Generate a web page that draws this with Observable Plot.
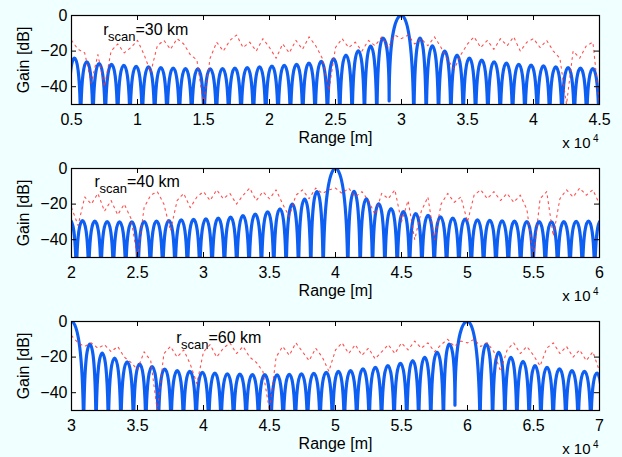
<!DOCTYPE html>
<html>
<head>
<meta charset="utf-8">
<script src="https://cdn.jsdelivr.net/npm/d3@7"></script>
<script src="https://cdn.jsdelivr.net/npm/@observablehq/plot@0.6"></script>
<style>
  html, body { margin: 0; padding: 0; background: #f0ffff; }
  #chart { width: 622px; height: 457px; overflow: hidden; }
  #chart svg { display: block; }
</style>
</head>
<body>
<div id="chart"></div>
<script>
// ---------------- data ----------------
// Panel 1: r_scan = 30 km
const nulls1 = [4755, 5690, 6625, 7560, 8495, 9430, 10365, 11300, 12235, 13170, 14105, 15040, 15975, 16910, 17845, 18780, 19715, 20650, 21585, 22520, 23455, 24390, 25325, 26260, 27195, 28130, 29065, 30935, 31870, 32805, 33740, 34675, 35610, 36545, 37480, 38415, 39350, 40285, 41220, 42155, 43090, 44025, 44960, 45895];
const peaks1 = [-24, -26, -27, -27.5, -28, -28.5, -28.8, -29.2, -29.5, -29.8, -30, -30, -29.8, -29.5, -29.2, -28.8, -28.4, -28, -27.5, -26.8, -25.8, -24.3, -22.2, -19.8, -17.2, -12.7,
  0,
  -12.7, -17, -20, -22.3, -24, -25.1, -26, -26.8, -27.4, -27.9, -28.3, -28.9, -29.2, -29.6, -29.8, -30];
const shallow1 = [[29065, -48]];
const red1 = [-14, -19, -21, -38, -22, -40, -20, -16, -21, -18,
  -14, -22, -32, -17, -14, -19, -13, -16, -22, -25,
  -50, -24, -15, -20, -14, -11, -18, -15, -20, -13,
  -18, -24, -16, -21, -14, -19, -12, -17, -24, -42,
  -18, -13, -18, -15, -20, -14, -17, -12, -18, -11,
  -13, -11, -16, -13, -17, -12, -18, -25, -30, -22,
  -16, -12, -18, -14, -19, -13, -17, -12, -20, -15,
  -13, -18, -14, -20, -24, -50, -20, -24, -17, -15,
  -50];

// Panel 2: r_scan = 40 km
const nulls2 = [19430, 20365, 21300, 22235, 23170, 24105, 25040, 25975, 26910, 27845, 28780, 29715, 30650, 31585, 32520, 33455, 34390, 35325, 36260, 37195, 38130, 39065, 40935, 41870, 42805, 43740, 44675, 45610, 46545, 47480, 48415, 49350, 50285, 51220, 52155, 53090, 54025, 54960, 55895, 56830, 57765, 58700, 59635, 60570];
const peaks2 = [-29, -29.3, -29.6, -29.8, -30, -30, -29.8, -29.5, -29.2, -28.8, -28.6, -28.3, -27.9, -27.3, -26.5, -25.6, -24.4, -22.6, -20, -17.2, -13,
  0,
  -12.8, -17, -19.9, -22.5, -24.2, -25.4, -26.3, -27.1, -27.8, -28.4, -28.8, -29.1, -29.4, -29.6, -29.8, -29.9, -30, -29.9, -29.7, -29.5, -29.2];
const shallow2 = [];
const red2 = [-22, -32, -16, -20, -14, -24, -18, -26, -20, -28,
  -50, -22, -15, -13, -20, -35, -18, -14, -22, -16,
  -13, -18, -12, -17, -14, -20, -15, -11, -18, -13,
  -17, -12, -20, -27, -15, -12, -17, -11, -14, -12,
  -11, -14, -11, -16, -13, -18, -26, -14, -17, -12,
  -30, -18, -40, -24, -16, -40, -20, -14, -19, -16,
  -30, -15, -12, -17, -13, -18, -14, -19, -15, -23,
  -50, -17, -13, -38, -17, -12, -16, -11, -15, -12,
  -20];

// Panel 3: r_scan = 60 km
const nulls3 = [29080, 30920, 31860, 32790, 33740, 34690, 35630, 36580, 37540, 38480, 39440, 40390, 41330, 42280, 43230, 44170, 45110, 46040, 46960, 47880, 48830, 49770, 50670, 51610, 52550, 53490, 54440, 55400, 56300, 57220, 58180, 59050, 60950, 61900, 62830, 63740, 64670, 65560, 66490, 67450, 68380, 69340, 70270];
const peaks3 = [0, -12.7, -17.7, -20.5, -22.6, -23.9, -25.4, -26.7, -27.6, -28, -28.5, -29, -29.4, -29.6, -29.8, -29.9,
  -30, -29.7, -29.4, -29.1, -28.5, -28, -27.6, -26.6, -25.7, -24.8, -23.5, -22, -20.1, -17.3, -12.7,
  0,
  -12.7, -17.3, -20.1, -22.4, -24.8, -25.7, -26.6, -27.6, -28, -29];
const shallow3 = [[59050, -47]];
const red3 = [-8, -12, -14, -12, -15, -13, -17, -14, -20, -23,
  -27, -17, -22, -50, -18, -14, -20, -16, -24, -35,
  -17, -13, -20, -15, -12, -18, -14, -20, -23, -28,
  -50, -20, -14, -19, -12, -17, -22, -15, -20, -28,
  -16, -12, -18, -13, -19, -15, -21, -17, -13, -18,
  -12, -16, -11, -15, -12, -17, -13, -10, -14, -11,
  -12, -10, -14, -12, -17, -28, -16, -12, -18, -14,
  -19, -25, -15, -12, -18, -14, -20, -16, -22, -17,
  -28];

const redStart = [5000, 20000, 30000];
const redStep = 500;

const xDomains = [[5000, 45000], [20000, 60000], [30000, 70000]];
const xTicks1 = [5000, 10000, 15000, 20000, 25000, 30000, 35000, 40000, 45000];
const xTicks2 = [20000, 25000, 30000, 35000, 40000, 45000, 50000, 55000, 60000];
const xTicks3 = [30000, 35000, 40000, 45000, 50000, 55000, 60000, 65000, 70000];
const yTicks = [0, -20, -40];
const scanLabels = ["=30 km", "=40 km", "=60 km"];
const labelX = [7400, 21750, 37930];
const labelY = [-10.7, -10.6, -12.3];

// ---------------- rendering ----------------
const W = 622, H = 153, mT = 15, mB = 49, mL = 71, mR = 23;
const plotW = W - mL - mR, plotH = H - mT - mB;
const BLUE = "#0d5ef2";
const RED = "#ff3030";
const NULL_DEPTH = -70;

// arch-shaped lobe rendering between alternating null / peak points
function archCurve(context) {
  let x0, y0, n = 0;
  const A = 0.93, B = 0.27;
  return {
    areaStart() {}, areaEnd() {},
    lineStart() { n = 0; },
    lineEnd() {},
    point(x, y) {
      x = +x; y = +y;
      if (n === 0) context.moveTo(x, y);
      else if (y < y0) context.bezierCurveTo(x0, y0 + A * (y - y0), x - B * (x - x0), y, x, y);
      else context.bezierCurveTo(x0 + B * (x - x0), y0, x, y + A * (y0 - y), x, y);
      x0 = x; y0 = y; n++;
    }
  };
}

function lobePoints(nulls, peaks, shallow) {
  const pts = [];
  const sh = new Map(shallow);
  nulls.forEach((nx, i) => {
    pts.push({x: nx, y: sh.has(nx) ? sh.get(nx) : NULL_DEPTH});
    if (i < peaks.length) pts.push({x: (nx + nulls[i + 1]) / 2, y: peaks[i]});
  });
  return pts;
}

const fmtY = d => d < 0 ? "\u2212" + (-d) : String(d);
const fmtX = d => String(d / 1e4);

function panel(idx, nulls, peaks, shallow, red, xTicks) {
  const blue = lobePoints(nulls, peaks, shallow);
  const redPts = red.map((v, i) => ({x: redStart[idx] + i * redStep, y: v}));
  const ann = [{x: labelX[idx], y: labelY[idx]}];
  return Plot.plot({
    width: W, height: H,
    marginTop: mT, marginBottom: mB, marginLeft: mL, marginRight: mR,
    x: {domain: xDomains[idx]},
    y: {domain: [-50, 0]},
    style: {background: "transparent", fontFamily: "'Liberation Sans', Arial, sans-serif", fontSize: "16px", color: "black", overflow: "visible"},
    marks: [
      Plot.frame({fill: "white", stroke: null}),
      Plot.line(blue, {x: "x", y: "y", curve: archCurve, stroke: BLUE, strokeWidth: 3.2, clip: true}),
      Plot.line(redPts, {x: "x", y: "y", stroke: RED, strokeWidth: 1.1, strokeDasharray: "2,4", strokeOpacity: 0.85, clip: true}),
      Plot.ruleX(xTicks, {x: d => d, insetTop: plotH - 5, stroke: "black"}),
      Plot.ruleX(xTicks, {x: d => d, insetBottom: plotH - 5, stroke: "black"}),
      Plot.ruleY(yTicks, {y: d => d, insetRight: plotW - 5, stroke: "black"}),
      Plot.ruleY(yTicks, {y: d => d, insetLeft: plotW - 5, stroke: "black"}),
      Plot.frame({stroke: "black", strokeWidth: 1.2}),
      Plot.axisX({ticks: xTicks, tickFormat: fmtX, tickSize: 0, tickPadding: 9, label: "Range [m]", labelAnchor: "center", labelOffset: 38, labelArrow: "none"}),
      Plot.axisY({ticks: yTicks, tickFormat: fmtY, tickSize: 0, tickPadding: 4, label: "Gain [dB]", labelAnchor: "center", labelOffset: 54, labelArrow: "none"}),
      Plot.text(ann, {x: "x", y: "y", text: () => "r", textAnchor: "start", lineAnchor: "bottom", fontSize: 16}),
      Plot.text(ann, {x: "x", y: "y", text: () => "scan", textAnchor: "start", lineAnchor: "bottom", fontSize: 13, dx: 4.8, dy: 6}),
      Plot.text(ann, {x: "x", y: "y", text: () => scanLabels[idx], textAnchor: "start", lineAnchor: "bottom", fontSize: 16, dx: 32.3}),
      Plot.text([0], {frameAnchor: "bottom-right", text: () => "x 10", textAnchor: "end", lineAnchor: "bottom", fontSize: 15, dx: -9, dy: 43}),
      Plot.text([0], {frameAnchor: "bottom-right", text: () => "4", textAnchor: "start", lineAnchor: "bottom", fontSize: 10, dx: -6.5, dy: 37.5})
    ]
  });
}

const root = document.getElementById("chart");
root.append(panel(0, nulls1, peaks1, shallow1, red1, xTicks1));
root.append(panel(1, nulls2, peaks2, shallow2, red2, xTicks2));
root.append(panel(2, nulls3, peaks3, shallow3, red3, xTicks3));
</script>
</body>
</html>
